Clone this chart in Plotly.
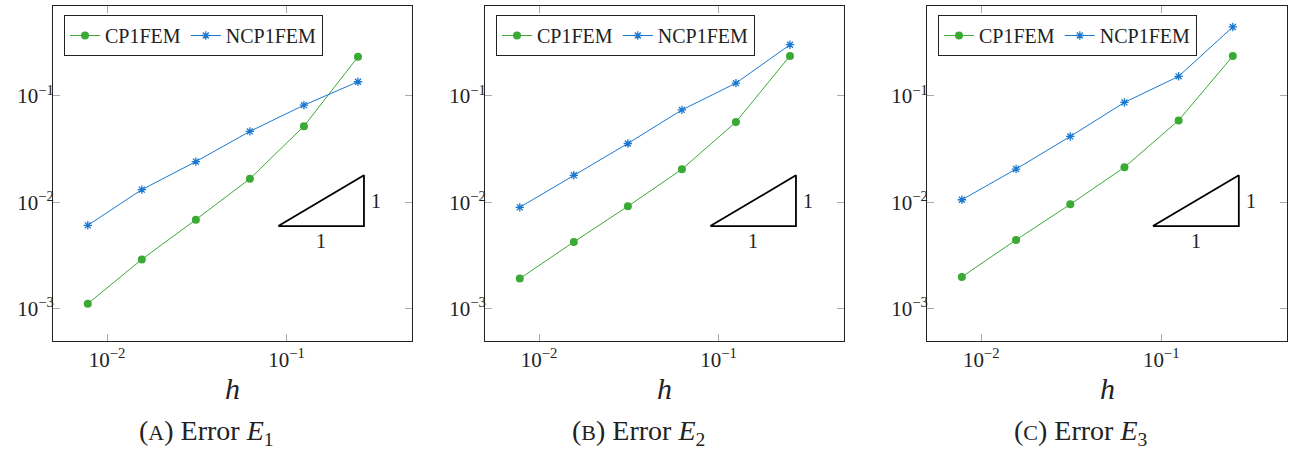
import numpy as np
import plotly.graph_objects as go

# ==========================================================
# DATA
# ==========================================================

h = [1 / 128, 1 / 64, 1 / 32, 1 / 16, 1 / 8, 1 / 4]

cp_e1 = [1.12e-3, 2.92e-3, 6.9e-3, 1.67e-2, 5.2e-2, 0.233]
ncp_e1 = [6.1e-3, 1.32e-2, 2.42e-2, 4.65e-2, 8.2e-2, 0.136]

cp_e2 = [1.93e-3, 4.26e-3, 9.2e-3, 2.05e-2, 5.7e-2, 0.238]
ncp_e2 = [9.0e-3, 1.8e-2, 3.58e-2, 7.4e-2, 0.132, 0.303]

cp_e3 = [2.0e-3, 4.45e-3, 9.6e-3, 2.14e-2, 5.9e-2, 0.237]
ncp_e3 = [1.06e-2, 2.06e-2, 4.17e-2, 8.7e-2, 0.153, 0.445]

tri_x = [0.09, 0.27, 0.27, 0.09]
tri_y = [0.006, 0.006, 0.018, 0.006]

captions = ["(<span style='font-size:22px'>A</span>) Error <i>E</i><sub>1</sub>",
            "(<span style='font-size:22px'>B</span>) Error <i>E</i><sub>2</sub>",
            "(<span style='font-size:22px'>C</span>) Error <i>E</i><sub>3</sub>"]

GREEN = "#3aaa35"
BLUE = "#1b78d0"
FONT = "Liberation Serif, DejaVu Serif, serif"

W, H = 1293, 452

# panel frames in pixels (left, right)
frames = [(53, 412), (485, 844), (927, 1287)]
top_px, bot_px = 6, 341

# ==========================================================
# FIGURE
# ==========================================================

fig = go.Figure()

panels = [(cp_e1, ncp_e1), (cp_e2, ncp_e2), (cp_e3, ncp_e3)]

for i, (cp, ncp) in enumerate(panels):
    n = "" if i == 0 else str(i + 1)
    xa, ya, lg = "x" + n, "y" + n, "legend" + n

    fig.add_trace(go.Scatter(
        x=h, y=cp, name="CP1FEM", mode="lines+markers",
        line=dict(color=GREEN, width=1),
        marker=dict(symbol="circle", size=8, color=GREEN),
        xaxis=xa, yaxis=ya, legend=lg
    ))
    fig.add_trace(go.Scatter(
        x=h, y=ncp, name="NCP1FEM", mode="lines+markers",
        line=dict(color=BLUE, width=1),
        marker=dict(symbol="asterisk", size=7, color=BLUE,
                    line=dict(color=BLUE, width=1.3)),
        xaxis=xa, yaxis=ya, legend=lg
    ))
    fig.add_trace(go.Scatter(
        x=tri_x, y=tri_y, mode="lines", showlegend=False,
        line=dict(color="black", width=1.8),
        hoverinfo="skip", xaxis=xa, yaxis=ya
    ))

    # slope labels
    fig.add_annotation(x=np.log10(np.sqrt(tri_x[0] * tri_x[1])), y=np.log10(tri_y[0]),
                       xref=xa, yref=ya, text="1", showarrow=False,
                       xanchor="center", yanchor="top", yshift=-2,
                       font=dict(family=FONT, size=20, color="#222"))
    fig.add_annotation(x=np.log10(tri_x[1]), y=np.log10(np.sqrt(tri_y[1] * tri_y[2])),
                       xref=xa, yref=ya, text="1", showarrow=False,
                       xanchor="left", yanchor="middle", xshift=5,
                       font=dict(family=FONT, size=20, color="#222"))

    left, right = frames[i]
    axis_common = dict(
        type="log", showline=True, linecolor="#222", linewidth=1, mirror="ticks",
        ticks="inside", ticklen=7, tickwidth=1, tickcolor="#aaa",
        showgrid=False, zeroline=False, automargin=False,
        tickfont=dict(family=FONT, size=21, color="#222"),
    )
    fig.layout["xaxis" + n] = dict(
        axis_common, domain=[left / W, right / W], anchor=ya,
        range=[np.log10(0.005), np.log10(0.5)],
        tickvals=[0.01, 0.1], ticktext=["10<sup>−2</sup>", "10<sup>−1</sup>"],
    )
    fig.layout["yaxis" + n] = dict(
        axis_common, domain=[(H - bot_px) / H, (H - top_px) / H], anchor=xa,
        range=[np.log10(5e-4), np.log10(0.7)],
        tickvals=[1e-3, 1e-2, 1e-1],
        ticktext=["10<sup>−3</sup>", "10<sup>−2</sup>", "10<sup>−1</sup>"],
        ticklabelstandoff=-6,
    )

    fig.layout[lg] = dict(
        x=(left + 11) / W, y=(H - 15) / H, xanchor="left", yanchor="top",
        orientation="h", bgcolor="white", bordercolor="#222", borderwidth=1,
        font=dict(family=FONT, size=20, color="#222"), itemwidth=30,
        tracegroupgap=0, itemclick=False,
    )

    # axis label h
    fig.add_annotation(x=(left + right) / 2 / W, y=(H - 388) / H, xref="paper", yref="paper",
                       text="<i>h</i>", showarrow=False, xanchor="center", yanchor="middle",
                       font=dict(family=FONT, size=30, color="#222"))
    # caption
    fig.add_annotation(x=((left + right) / 2 - 26) / W, y=(H - 432) / H, xref="paper", yref="paper",
                       text=captions[i], showarrow=False, xanchor="center", yanchor="middle",
                       font=dict(family=FONT, size=28, color="#222"))

fig.update_layout(
    width=W, height=H,
    margin=dict(l=0, r=0, t=0, b=0),
    paper_bgcolor="white", plot_bgcolor="white",
    font=dict(family=FONT),
    template="none",
)

fig.write_html("out.html", config={"displayModeBar": False},
               post_script="document.body.style.margin='0';")
